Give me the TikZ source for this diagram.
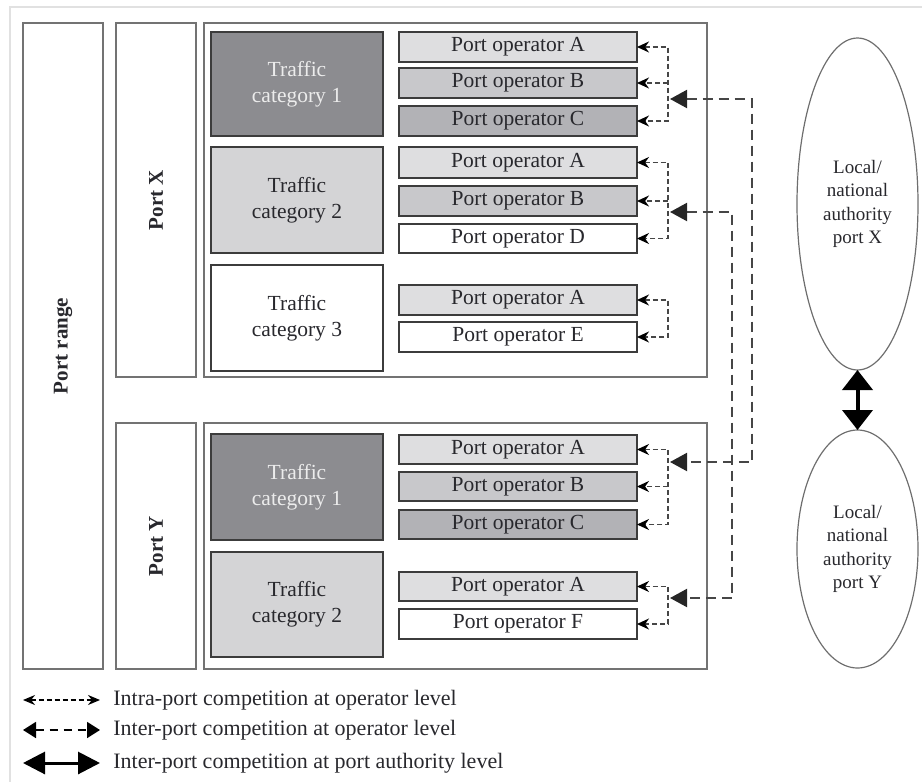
\documentclass[tikz,border=0pt]{standalone}
\usepackage{fontspec}
\setmainfont{Liberation Serif}
\usetikzlibrary{arrows.meta,shapes.geometric}
\definecolor{txt}{RGB}{40,40,45}
\definecolor{framec}{RGB}{225,225,225}
\definecolor{contc}{RGB}{115,115,115}
\definecolor{boxline}{RGB}{60,60,60}
\definecolor{tcone}{RGB}{140,140,144}
\definecolor{tctwo}{RGB}{212,212,214}
\definecolor{opa}{RGB}{222,222,224}
\definecolor{opb}{RGB}{200,200,203}
\definecolor{opc}{RGB}{178,178,182}
\definecolor{tconetext}{RGB}{236,236,236}
\definecolor{dashc}{RGB}{70,70,70}
\definecolor{ellc}{RGB}{110,110,110}
\newcommand\pbox[7]{\node[#6, minimum width={(#4-#2)*0.5pt}, minimum height={(#5-#3)*0.5pt}] (#1) at ({(#2+#4)/2},{(#3+#5)/2}) {#7};}
\begin{document}
\begin{tikzpicture}[x=0.5pt,y=-0.5pt,
  base/.style={draw, inner sep=0pt, outer sep=0pt, align=center, text=txt,
    font=\fontsize{10.75}{13}\selectfont},
  colbox/.style={base, draw=contc, line width=1pt, fill=white},
  contbox/.style={base, draw=contc, line width=1pt},
  tcbox/.style={base, draw=boxline, line width=1pt},
  opbox/.style={base, draw=boxline, line width=1pt},
  vlabel/.style={rotate=90, inner sep=0pt, text=txt, font=\fontsize{10.5}{12}\selectfont\bfseries},
  intra/.style={draw=dashc, line width=0.7pt, dash pattern=on 2.5pt off 1.5pt},
  smalltip/.style={{Stealth[length=6pt,width=5.5pt,color=black]}-{Stealth[length=6pt,width=5.5pt,color=black]}},
  smallend/.style={-{Stealth[length=6pt,width=5.5pt,color=black]}},
  inter/.style={draw=dashc, line width=1pt, dash pattern=on 5pt off 3pt},
  bigtips/.style={{Triangle[length=8.5pt,width=9pt,color=black!85]}-{Triangle[length=8.5pt,width=9pt,color=black!85]}},
  auth/.style={ellipse, draw=ellc, line width=0.6pt, inner sep=0pt, outer sep=0pt,
    minimum width=60.5pt, align=center, text=txt, font=\fontsize{9.5}{11.8}\selectfont},
  legtext/.style={anchor=west, inner sep=0pt, text=txt, font=\fontsize{11}{13}\selectfont}
]
\useasboundingbox (0,0) rectangle (922,782);
% faint outer frame
\draw[framec, line width=1pt] (10,782) -- (10,7) -- (922,7);

% columns
\pbox{range}{23}{23}{103}{669}{colbox}{}
\node[vlabel] (rangelab) at (range.center) {Port range};
\pbox{portx}{116}{23}{196}{377}{colbox}{}
\node[vlabel] (portxlab) at (portx.center) {Port X};
\pbox{porty}{116}{423}{196}{669}{colbox}{}
\node[vlabel] (portylab) at (porty.center) {Port Y};

% containers
\pbox{contx}{204}{23}{707}{377}{contbox}{}
\pbox{conty}{204}{423}{707}{669}{contbox}{}

% traffic categories
\pbox{xtc1}{211}{32}{383}{136}{tcbox,fill=tcone,text=tconetext}{Traffic\\category 1}
\pbox{xtc2}{211}{147}{383}{253}{tcbox,fill=tctwo}{Traffic\\category 2}
\pbox{xtc3}{211}{265}{383}{371}{tcbox,fill=white}{Traffic\\category 3}
\pbox{ytc1}{211}{434}{383}{540}{tcbox,fill=tcone,text=tconetext}{Traffic\\category 1}
\pbox{ytc2}{211}{552}{383}{657}{tcbox,fill=tctwo}{Traffic\\category 2}

% operators, port X
\pbox{xa1}{399}{32}{637}{62}{opbox,fill=opa}{Port operator A}
\pbox{xb1}{399}{68}{637}{98}{opbox,fill=opb}{Port operator B}
\pbox{xc1}{399}{106}{637}{136}{opbox,fill=opc}{Port operator C}
\pbox{xa2}{399}{147}{637}{178}{opbox,fill=opa}{Port operator A}
\pbox{xb2}{399}{186}{637}{216}{opbox,fill=opb}{Port operator B}
\pbox{xd2}{399}{224}{637}{253}{opbox,fill=white}{Port operator D}
\pbox{xa3}{399}{285}{637}{315}{opbox,fill=opa}{Port operator A}
\pbox{xe3}{399}{322}{637}{352}{opbox,fill=white}{Port operator E}
% operators, port Y
\pbox{ya1}{399}{435}{637}{464}{opbox,fill=opa}{Port operator A}
\pbox{yb1}{399}{472}{637}{501}{opbox,fill=opb}{Port operator B}
\pbox{yc1}{399}{510}{637}{539}{opbox,fill=opc}{Port operator C}
\pbox{ya2}{399}{572}{637}{601}{opbox,fill=opa}{Port operator A}
\pbox{yf2}{399}{609}{637}{639}{opbox,fill=white}{Port operator F}

% intra-port brackets
\coordinate (gx) at (668,0);
\draw[intra,smalltip] (xa1.east) -- (xa1.east -| gx) -- (xc1.east -| gx) -- (xc1.east);
\draw[intra,smallend] (xb1.east -| gx) -- (xb1.east);
\draw[intra,smalltip] (xa2.east) -- (xa2.east -| gx) -- (xd2.east -| gx) -- (xd2.east);
\draw[intra,smallend] (xb2.east -| gx) -- (xb2.east);
\draw[intra,smalltip] (xa3.east) -- (xa3.east -| gx) -- (xe3.east -| gx) -- (xe3.east);
\draw[intra,smalltip] (ya1.east) -- (ya1.east -| gx) -- (yc1.east -| gx) -- (yc1.east);
\draw[intra,smallend] (yb1.east -| gx) -- (yb1.east);
\draw[intra,smalltip] (ya2.east) -- (ya2.east -| gx) -- (yf2.east -| gx) -- (yf2.east);

% inter-port connectors
\coordinate (ix1) at (670,99);
\coordinate (iy1) at (670,462);
\coordinate (ix2) at (670,212);
\coordinate (iy2) at (670,598);
\coordinate (r1) at (752,0);
\coordinate (r2) at (732,0);
\draw[inter,bigtips] (ix1) -- (ix1 -| r1) -- (iy1 -| r1) -- (iy1);
\draw[inter,bigtips] (ix2) -- (ix2 -| r2) -- (iy2 -| r2) -- (iy2);

% authorities
\node[auth, minimum height=166pt] (authx) at (857.5,204) {Local/\\national\\authority\\port X};
\node[auth, minimum height=119pt] (authy) at (857.5,549) {Local/\\national\\authority\\port Y};
\draw[black, line width=2pt, {Triangle[length=10pt,width=15pt]}-{Triangle[length=10pt,width=15pt]}] (authx.south) -- (authy.north);

% legend
\coordinate (l1a) at (23,700); \coordinate (l1b) at (100,700);
\coordinate (l2a) at (23,730); \coordinate (l2b) at (100,730);
\coordinate (l3a) at (23,763); \coordinate (l3b) at (100,763);
\draw[black, line width=0.7pt, dash pattern=on 2.5pt off 1.5pt, {Stealth[length=6pt,width=5pt]}-{Stealth[length=6pt,width=5pt]}] (l1a) -- (l1b);
\draw[black, line width=0.9pt, dash pattern=on 4pt off 3pt, {Triangle[length=6.5pt,width=8pt]}-{Triangle[length=6.5pt,width=8pt]}] (l2a) -- (l2b);
\draw[black, line width=1.5pt, {Triangle[length=11pt,width=11pt]}-{Triangle[length=11pt,width=11pt]}] (l3a) -- (l3b);
\node[legtext] (t1) at (113,700) {Intra-port competition at operator level};
\node[legtext] (t2) at (113,730) {Inter-port competition at operator level};
\node[legtext] (t3) at (113,763) {Inter-port competition at port authority level};
\end{tikzpicture}
\end{document}
